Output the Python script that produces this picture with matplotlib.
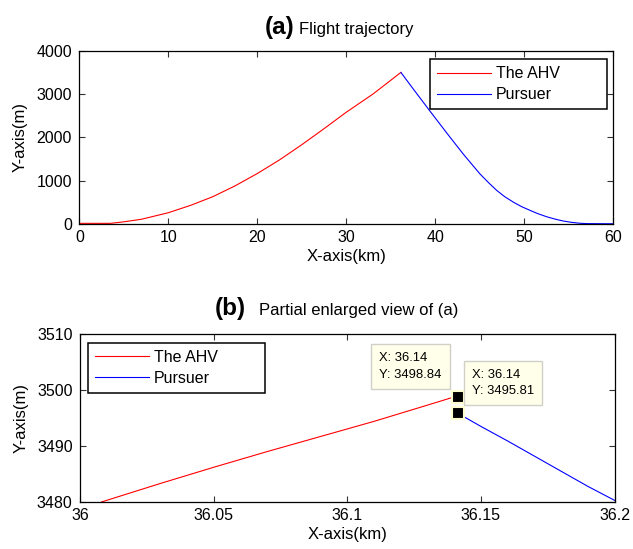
import matplotlib.pyplot as plt

plt.rcParams['font.family'] = ['Liberation Sans', 'DejaVu Sans']

# (a) full trajectory, x in km, y in m
ahv_x = [0, 3.5, 5, 7, 10, 12.5, 15, 17.5, 20, 22.5, 25, 27.5, 30, 33, 36.14]
ahv_y = [15, 15, 50, 110, 260, 430, 630, 880, 1165, 1480, 1830, 2200, 2580, 3000, 3499]
pur_x = [36.14, 37.5, 39.4, 41.3, 43.1, 45.0, 46.0, 46.9, 47.8, 48.8, 49.7, 50.6,
         51.5, 52.5, 53.5, 54.4, 55.3, 56.3, 57, 60]
pur_y = [3496, 3122, 2605, 2096, 1624, 1159, 950, 775, 630, 500, 400, 318,
         240, 168, 110, 68, 38, 16, 9, 5]

# (b) zoomed portion around the switch point
zahv_x = [36.008, 36.03, 36.05, 36.07, 36.09, 36.11, 36.13, 36.1405]
zahv_y = [3480.0, 3483.3, 3486.2, 3489.0, 3491.7, 3494.4, 3497.3, 3498.84]
zpur_x = [36.1415, 36.15, 36.16, 36.17, 36.18, 36.19, 36.2]
zpur_y = [3495.81, 3493.5, 3490.9, 3488.2, 3485.5, 3482.8, 3480.3]

tip_x = [36.1413, 36.1413]
tip_y = [3498.84, 3495.81]

fig = plt.figure(figsize=(6.33, 5.49), dpi=100)
ax1 = fig.add_axes([0.1253, 0.592, 0.8436, 0.3157])
ax2 = fig.add_axes([0.1264, 0.0856, 0.8444, 0.306])

for ax in (ax1, ax2):
    ax.tick_params(direction='in', top=True, right=True, labelsize=11.5, length=4.5,
                   color='#333333')
    ax.tick_params(axis='x', pad=4)
    ax.tick_params(axis='y', pad=5.3)
    for s in ax.spines.values():
        s.set_linewidth(0.9)


def make_legend(ax, anchor, loc):
    leg = ax.legend(loc=loc, bbox_to_anchor=anchor, mode='expand', fontsize=11.5,
                    fancybox=False, framealpha=1, edgecolor='black', borderaxespad=0,
                    handlelength=3.4, handletextpad=0.3, borderpad=0.45,
                    labelspacing=0.38)
    leg.get_frame().set_linewidth(1.1)
    return leg


ax1.plot(ahv_x, ahv_y, color='red', lw=0.8, label='The AHV')
ax1.plot(pur_x, pur_y, color='blue', lw=0.8, label='Pursuer')
ax1.set_xlim(0, 60)
ax1.set_ylim(0, 4000)
ax1.set_xticks(range(0, 61, 10))
ax1.set_yticks(range(0, 4001, 1000))
ax1.set_xlabel('X-axis(km)', fontsize=12, labelpad=3.5)
ax1.set_ylabel('Y-axis(m)', fontsize=12, labelpad=6)
make_legend(ax1, (0.6565, 0.664, 0.3315, 0.288), 'upper left')

ax2.plot(zahv_x, zahv_y, color='red', lw=0.8, label='The AHV')
ax2.plot(zpur_x, zpur_y, color='blue', lw=0.8, label='Pursuer')
ax2.set_xlim(36, 36.2)
ax2.set_ylim(3480, 3510)
ax2.set_xticks([36, 36.05, 36.1, 36.15, 36.2])
ax2.set_xticklabels(['36', '36.05', '36.1', '36.15', '36.2'])
ax2.set_yticks([3480, 3490, 3500, 3510])
ax2.set_xlabel('X-axis(km)', fontsize=12, labelpad=3.5)
ax2.set_ylabel('Y-axis(m)', fontsize=12, labelpad=6)
make_legend(ax2, (0.0144, 0.655, 0.331, 0.293), 'upper left')

# data tips
ax2.plot(tip_x, tip_y, 's', ms=8, mfc='black', mec='#ffffd0', mew=1.5, zorder=5)
tip_box = dict(boxstyle='square,pad=0.62', fc='#ffffea', ec='#d0d0c8', lw=1)
ax2.text(36.1120, 3506.7, 'X: 36.14\nY: %.2f' % tip_y[0], fontsize=9.4,
         ha='left', va='top', bbox=tip_box, linespacing=1.45, zorder=6)
ax2.text(36.1466, 3503.7, 'X: 36.14\nY: %.2f' % tip_y[1], fontsize=9.4,
         ha='left', va='top', bbox=tip_box, linespacing=1.45, zorder=6)

# titles: bold letter + normal caption
fig.text(0.4645, 0.938, '(a)', fontsize=17.5, fontweight='bold', ha='right', va='baseline')
fig.text(0.4728, 0.938, 'Flight trajectory', fontsize=12, ha='left', va='baseline')
fig.text(0.3886, 0.4262, '(b)', fontsize=17.5, fontweight='bold', ha='right', va='baseline')
fig.text(0.4096, 0.4262, 'Partial enlarged view of (a)', fontsize=12, ha='left', va='baseline')

fig.savefig('out.png', dpi=100)
